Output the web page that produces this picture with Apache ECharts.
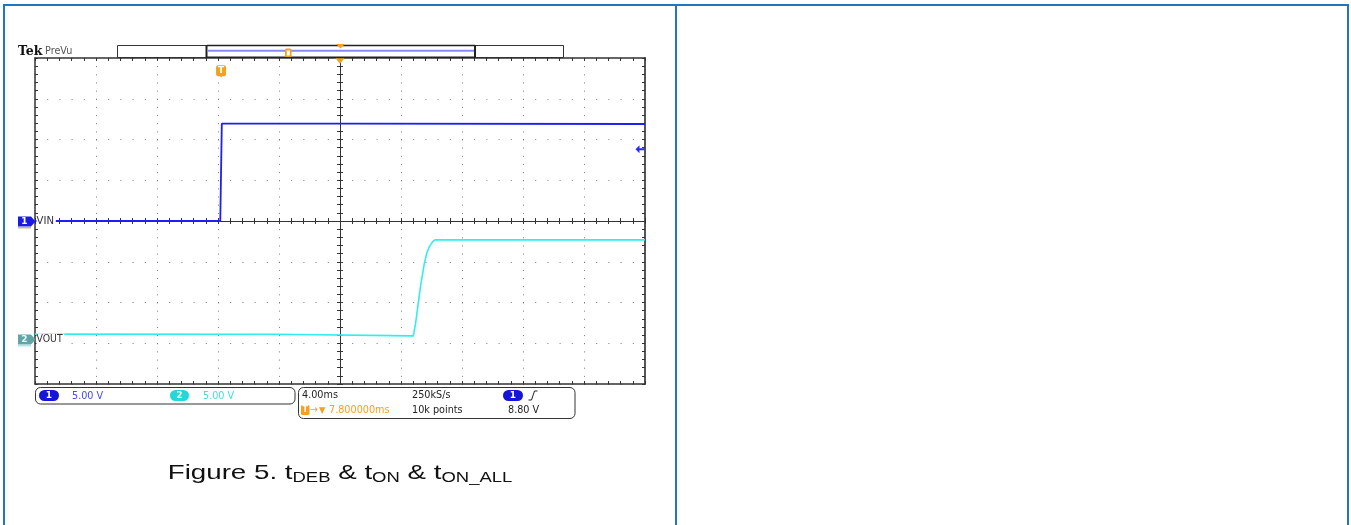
<!DOCTYPE html>
<html><head><meta charset="utf-8">
<script src="https://cdn.jsdelivr.net/npm/echarts@6/dist/echarts.min.js"></script>
<style>html,body{margin:0;padding:0;background:#fff}#c{width:1351px;height:525px}</style>
</head><body><div id="c"></div><script>
// ---- data (time in ms relative to screen centre, volts) ----
const vinTime = [-20, -7.85, -7.75, 0, 20];
const vinVolt = [0, 0, 11.95, 11.95, 11.9];
const voutTime = [-20, -4.3, -4.2, 4.81, 4.96, 5.13, 5.31, 5.53, 5.69, 5.86, 6.08, 6.23, 20];
const voutVolt = [0.62, 0.6, 0.45, 0.4, 1.96, 4.4, 6.86, 9.3, 10.54, 11.36, 11.97, 12.18, 12.18];
const ch1Scale = 5, ch2Scale = 5;       // V/div
const ch1Pos = 0, ch2Pos = -2.9;        // div
const trigTime = -7.8;                  // ms
const trigLevel = 8.8;                  // V
const readout = {ch1: '5.00 V', ch2: '5.00 V', hscale: '4.00ms', rate: '250kS/s', trig: '7.800000ms', rec: '10k points', level: '8.80 V'};

const F = '"DejaVu Sans", sans-serif';
const ORANGE = '#f5a01e';
const tick = {color: '#333', width: 1};

function xAx(pos, opts) {
  return Object.assign({type: 'value', min: -20, max: 20, interval: 4, position: pos,
    axisLine: {show: true, onZero: false, lineStyle: {color: '#333', width: 1.5}},
    axisTick: {show: true, inside: true, length: 3, lineStyle: tick},
    minorTick: {show: true, splitNumber: 5, length: 3, lineStyle: tick},
    axisLabel: {show: false}, splitLine: {show: false}}, opts || {});
}
function yAx(pos, opts) {
  return Object.assign({type: 'value', min: -4, max: 4, interval: 1, position: pos,
    axisLine: {show: true, onZero: false, lineStyle: {color: '#333', width: 1.5}},
    axisTick: {show: true, inside: true, length: 3, lineStyle: tick},
    minorTick: {show: true, splitNumber: 5, length: 3, lineStyle: tick},
    axisLabel: {show: false}, splitLine: {show: false}}, opts || {});
}

const chart = echarts.init(document.getElementById('c'), null, {renderer: 'canvas'});

function txt(x, y, s, fill, size, extra) {
  return Object.assign({type: 'text', x: x, y: y, z: 100, scaleX: 0.92,
    style: {text: s, fill: fill, font: (size || 10.5) + 'px ' + F, verticalAlign: 'middle'}}, extra || {});
}
function pill(x, y, w, fill, label) {
  return [
    {type: 'rect', z: 100, shape: {x: x, y: y, width: w, height: 11, r: 5.5}, style: {fill: fill}},
    {type: 'text', z: 101, x: x + w / 2, y: y + 5.7, style: {text: label, fill: '#fff', font: 'bold 9px ' + F, align: 'center', verticalAlign: 'middle'}}
  ];
}

const graphics = [
  // table cells
  {type: 'rect', z: 100, shape: {x: 4, y: 5, width: 672, height: 540}, style: {fill: 'none', stroke: '#1f77bd', lineWidth: 2}},
  {type: 'rect', z: 100, shape: {x: 676, y: 5, width: 672, height: 540}, style: {fill: 'none', stroke: '#1f77bd', lineWidth: 2}},
  // Tek PreVu
  {type: 'text', z: 100, x: 18, y: 51.5, style: {text: 'Tek', fill: '#111', font: 'bold 12.5px "DejaVu Serif", serif', verticalAlign: 'middle'}},
  txt(45, 51, 'PreVu', '#555', 10.5),
  // record view bar
  {type: 'rect', z: 100, shape: {x: 117.5, y: 45.5, width: 446, height: 12}, style: {fill: '#fff', stroke: '#333', lineWidth: 1}},
  {type: 'line', z: 101, shape: {x1: 208, y1: 50.8, x2: 474, y2: 50.8}, style: {stroke: '#8a8af5', lineWidth: 2}},
  {type: 'line', z: 101, shape: {x1: 207, y1: 45.5, x2: 475, y2: 45.5}, style: {stroke: '#222', lineWidth: 1.6}},
  {type: 'line', z: 101, shape: {x1: 207, y1: 57.2, x2: 475, y2: 57.2}, style: {stroke: '#222', lineWidth: 1.6}},
  {type: 'line', z: 101, shape: {x1: 206.5, y1: 45, x2: 206.5, y2: 58}, style: {stroke: '#222', lineWidth: 2}},
  {type: 'line', z: 101, shape: {x1: 475, y1: 45, x2: 475, y2: 58}, style: {stroke: '#222', lineWidth: 2}},
  {type: 'rect', z: 102, shape: {x: 285, y: 48.5, width: 6.5, height: 8.5, r: 1.5}, style: {fill: ORANGE}},
  {type: 'rect', z: 103, shape: {x: 286.8, y: 50.5, width: 3, height: 5}, style: {fill: '#fff'}},
  {type: 'polygon', z: 102, shape: {points: [[336, 44], [345, 44], [340.5, 48.5]]}, style: {fill: ORANGE}},
  // channel ground markers + labels
  {type: 'polygon', z: 100, shape: {points: [[18, 216.5], [31, 216.5], [35.5, 221.5], [31, 226.5], [18, 226.5]]}, style: {fill: '#1a1ae0'}},
  {type: 'line', z: 100, shape: {x1: 18, y1: 227.8, x2: 31, y2: 227.8}, style: {stroke: '#b0b060', lineWidth: 1.2}},
  {type: 'text', z: 101, x: 24.5, y: 221.8, style: {text: '1', fill: '#fff', font: 'bold 9px ' + F, align: 'center', verticalAlign: 'middle'}},
  {type: 'text', z: 100, x: 36.5, y: 221.5, scaleX: 0.92, style: {text: 'VIN', fill: '#333', font: '11px ' + F, verticalAlign: 'middle', backgroundColor: '#fff', padding: [1, 2, 0, 0]}},
  {type: 'polygon', z: 100, shape: {points: [[18, 334.5], [31, 334.5], [35.5, 339.5], [31, 344.5], [18, 344.5]]}, style: {fill: '#62a5a5'}},
  {type: 'line', z: 100, shape: {x1: 18, y1: 345.8, x2: 31, y2: 345.8}, style: {stroke: '#8fe6e6', lineWidth: 1.2}},
  {type: 'text', z: 101, x: 24.5, y: 339.8, style: {text: '2', fill: '#dcffff', font: 'bold 9px ' + F, align: 'center', verticalAlign: 'middle'}},
  {type: 'text', z: 100, x: 36.5, y: 339.5, scaleX: 0.85, style: {text: 'VOUT', fill: '#333', font: '11px ' + F, verticalAlign: 'middle', backgroundColor: '#fff', padding: [1, 2, 0, 0]}},
  // readout box 1
  {type: 'rect', z: 100, shape: {x: 35.5, y: 387.5, width: 259.5, height: 16.5, r: 5}, style: {fill: '#fff', stroke: '#333', lineWidth: 1}},
  ...pill(39, 390, 20, '#1515d8', '1'),
  txt(72, 396, readout.ch1, '#4646ff'),
  ...pill(170, 390, 19, '#22d8d8', '2'),
  txt(203, 396, readout.ch2, '#3ee0e0'),
  // readout box 2
  {type: 'rect', z: 100, shape: {x: 298.5, y: 387.5, width: 276.5, height: 31, r: 5}, style: {fill: '#fff', stroke: '#333', lineWidth: 1}},
  txt(302, 395.5, readout.hscale, '#222'),
  txt(412, 395.5, readout.rate, '#222'),
  ...pill(503, 390, 20, '#1515d8', '1'),
  {type: 'polyline', z: 101, shape: {points: [[528.5, 400], [531.5, 400], [534.5, 391], [537.5, 391]]}, style: {stroke: '#222', lineWidth: 1, fill: 'none'}},
  {type: 'rect', z: 100, shape: {x: 301, y: 405, width: 8.5, height: 10, r: 1.5}, style: {fill: ORANGE}},
  {type: 'text', z: 101, x: 305.2, y: 410.3, style: {text: 'T', fill: '#fff', font: 'bold 8px ' + F, align: 'center', verticalAlign: 'middle'}},
  txt(310, 410, '→', ORANGE),
  txt(319, 410.5, '▼', ORANGE, 9),
  txt(329, 410, readout.trig, ORANGE),
  txt(412, 410, readout.rec, '#222'),
  txt(508, 410, readout.level, '#222'),
  // caption
  {type: 'text', z: 100, x: 340, y: 473, scaleX: 1.32, style: {
    text: '{a|Figure 5. t}{b|DEB}{a| & t}{b|ON}{a| & t}{b|ON_ALL}',
    align: 'center', verticalAlign: 'middle',
    rich: {
      a: {fontFamily: '"Liberation Sans", Arial, sans-serif', fontSize: 21, lineHeight: 24, fill: '#111'},
      b: {fontFamily: '"Liberation Sans", Arial, sans-serif', fontSize: 14, lineHeight: 11, verticalAlign: 'bottom', fill: '#111'}
    }}}
];

const option = {
  animation: false,
  backgroundColor: '#fff',
  grid: {left: 35, top: 58, width: 610, height: 326, containLabel: false},
  xAxis: [
    xAx('bottom', {splitLine: {show: true, lineStyle: {color: '#7a7a7a', width: 1, type: [1, 7.15]}}}),
    xAx('top'),
    xAx('bottom', {axisLine: {show: true, onZero: true, onZeroAxisIndex: 0, lineStyle: {color: '#333', width: 1}}, axisTick: {show: true, inside: true, length: 3, lineStyle: tick}}),
    xAx('bottom', {axisLine: {show: true, onZero: true, onZeroAxisIndex: 0, lineStyle: {color: '#333', width: 1}}, axisTick: {show: true, inside: false, length: 3, lineStyle: tick}})
  ],
  yAxis: [
    yAx('left', {splitLine: {show: true, lineStyle: {color: '#7a7a7a', width: 1, type: [1, 11.2]}}}),
    yAx('right', {axisLine: {show: true, onZero: false, lineStyle: {color: '#555', width: 2}}}),
    yAx('left', {axisLine: {show: true, onZero: true, onZeroAxisIndex: 0, lineStyle: {color: '#333', width: 1}}, axisTick: {show: true, inside: true, length: 3, lineStyle: tick}}),
    yAx('left', {axisLine: {show: true, onZero: true, onZeroAxisIndex: 0, lineStyle: {color: '#333', width: 1}}, axisTick: {show: true, inside: false, length: 3, lineStyle: tick}})
  ],
  series: [
    {type: 'line', name: 'VIN', xAxisIndex: 0, yAxisIndex: 0, symbol: 'none', z: 5,
      data: vinTime.map((t, i) => [t, vinVolt[i] / ch1Scale + ch1Pos]),
      lineStyle: {color: '#1f1ff0', width: 1.8},
      markPoint: {silent: true, animation: false, data: [
        {coord: [20, trigLevel / ch1Scale + ch1Pos], symbol: 'path://M0,4 L4,0 L4,3 L9,3 L9,5 L4,5 L4,8 Z', symbolSize: [9, 8], symbolOffset: [-5, 0], itemStyle: {color: '#2a2aff'}, label: {show: false}},
        {coord: [trigTime, 4], symbol: 'path://M2,0 H8 Q10,0 10,2 V9 Q10,11 8,11 H6 L5,12.5 L4,11 H2 Q0,11 0,9 V2 Q0,0 2,0 Z', symbolSize: [10, 12.5], symbolOffset: [0, 13.5], itemStyle: {color: ORANGE},
          label: {show: true, formatter: 'T', color: '#fff', fontSize: 9, fontWeight: 'bold', fontFamily: F, offset: [0, -1]}},
        {coord: [0, 4], symbol: 'triangle', symbolRotate: 180, symbolSize: [9, 5.5], symbolOffset: [0, 3], itemStyle: {color: ORANGE}, label: {show: false}}
      ]}},
    {type: 'line', name: 'VOUT', xAxisIndex: 0, yAxisIndex: 0, symbol: 'none', z: 4,
      data: voutTime.map((t, i) => [t, voutVolt[i] / ch2Scale + ch2Pos]),
      lineStyle: {color: '#33eded', width: 1.6}}
  ],
  graphic: {elements: graphics}
};
chart.setOption(option);
</script></body></html>
